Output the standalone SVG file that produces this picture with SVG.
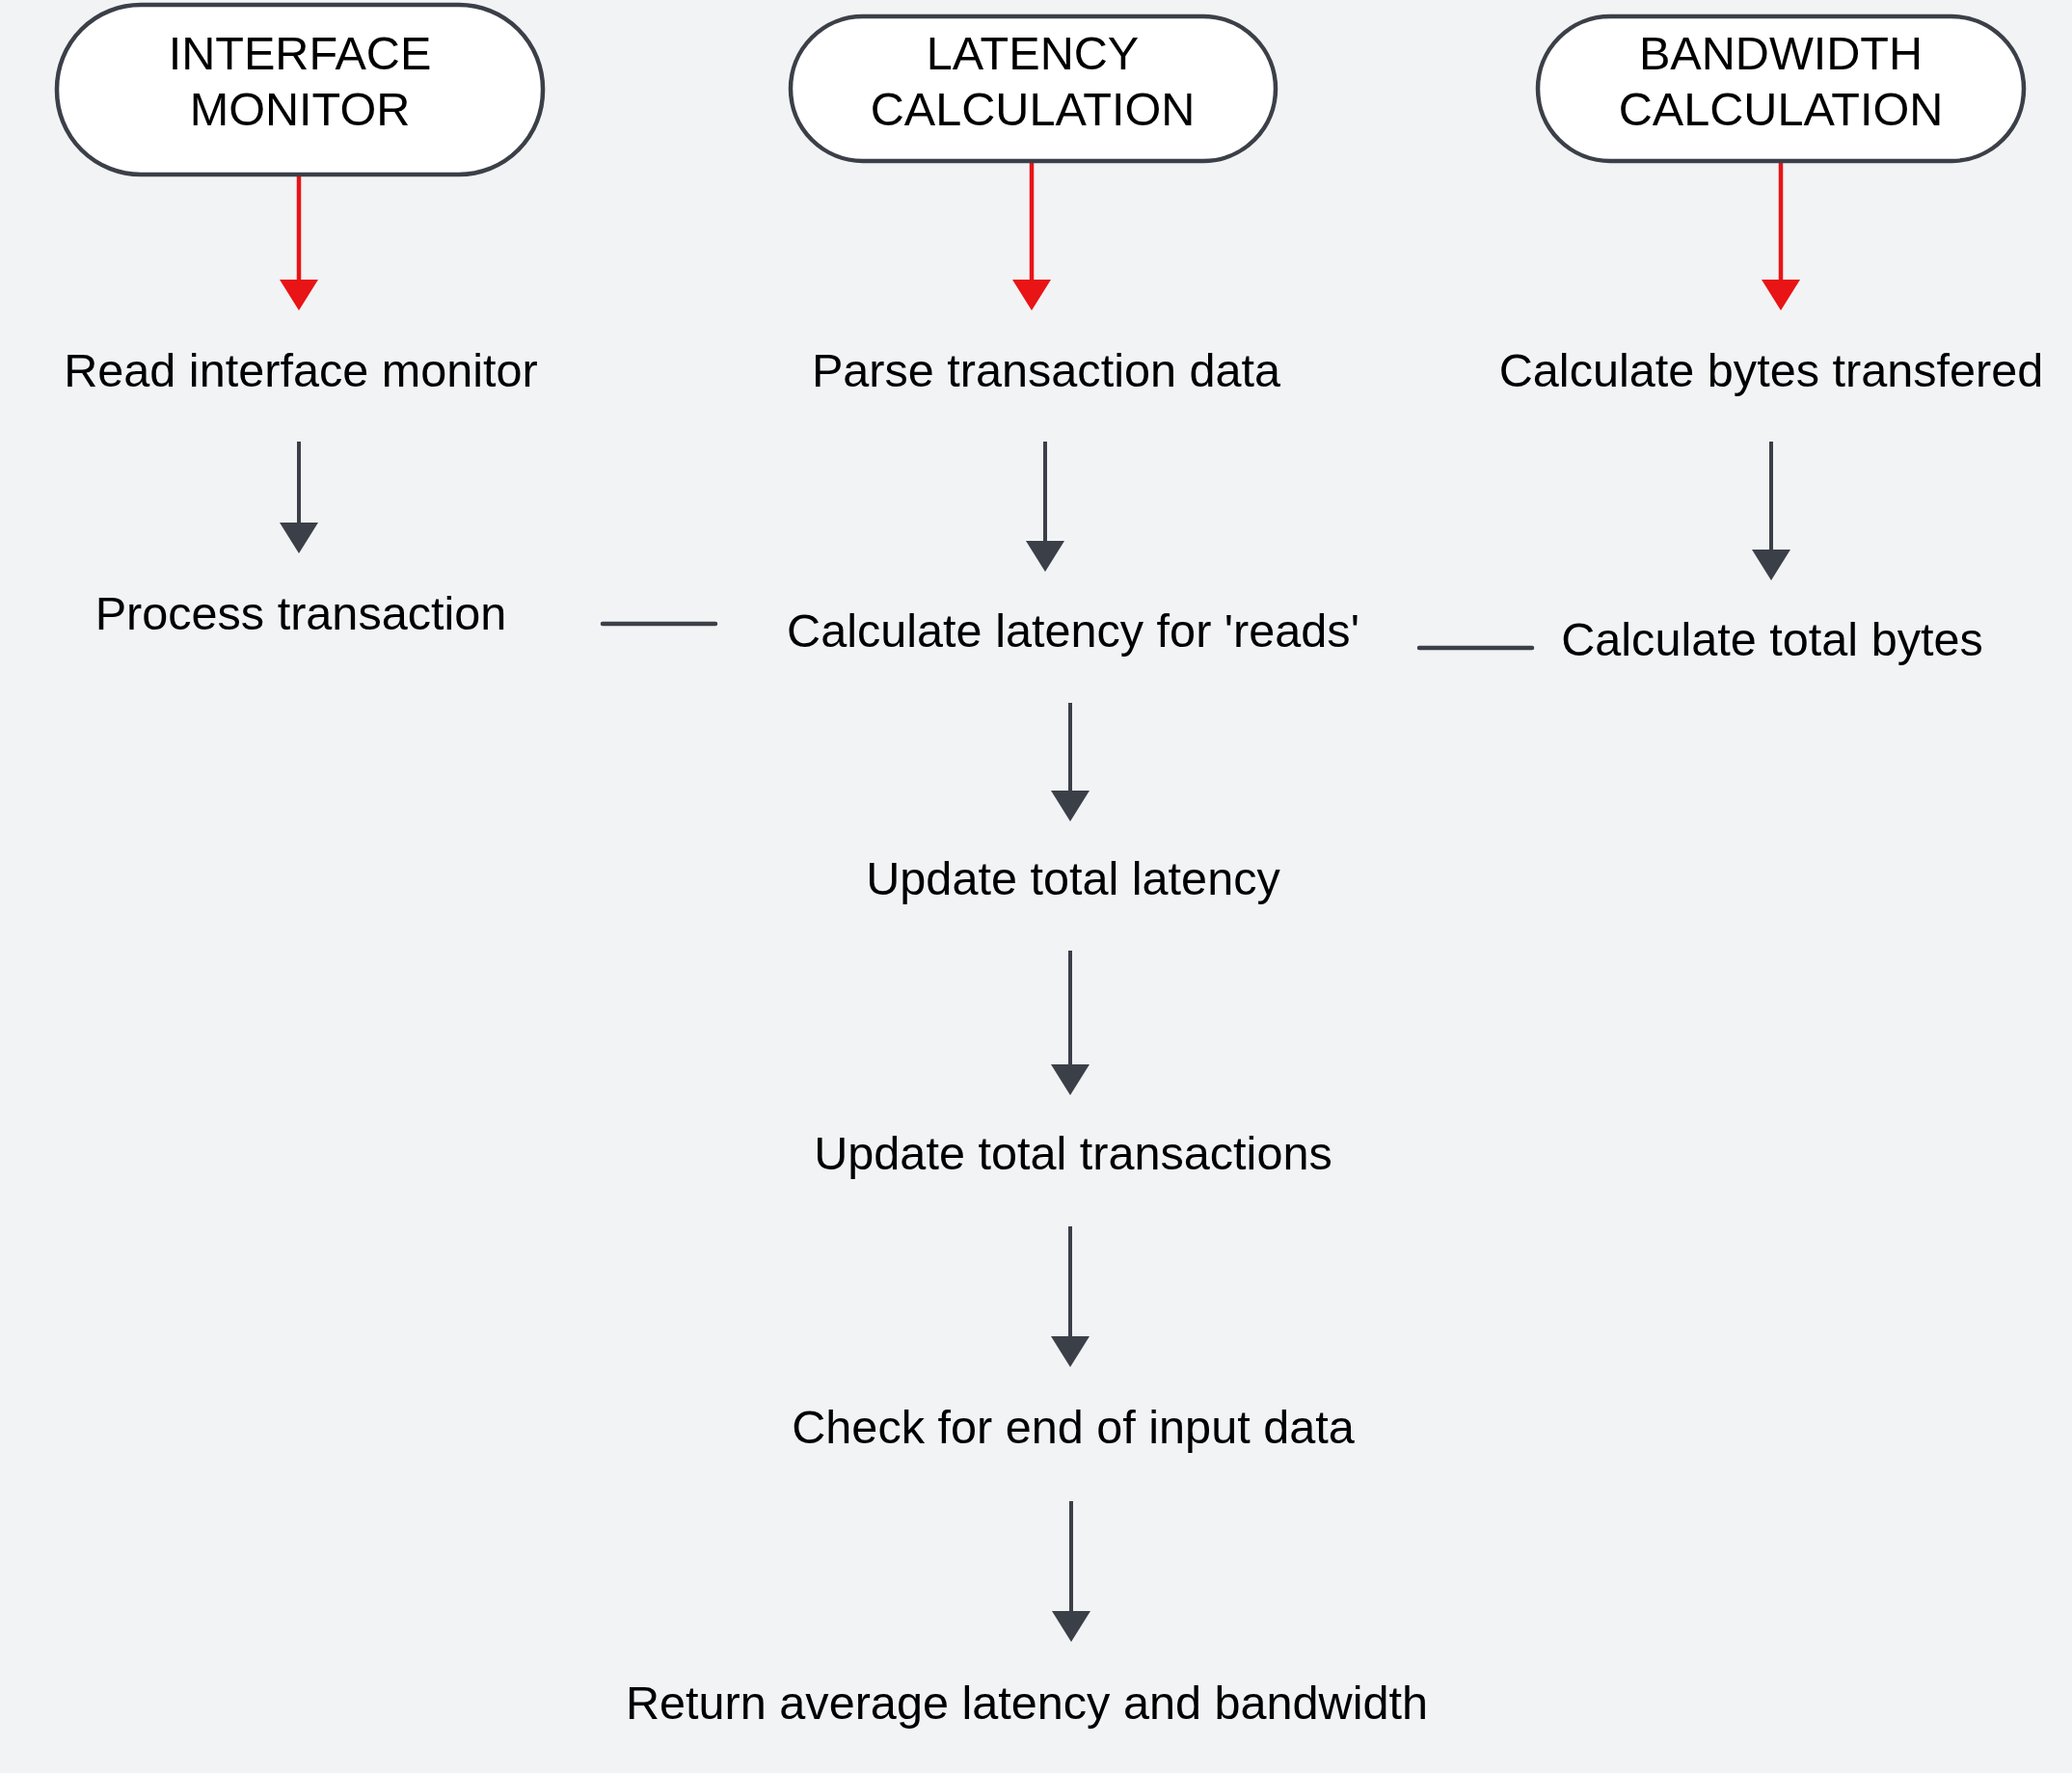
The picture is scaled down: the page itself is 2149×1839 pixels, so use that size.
<svg xmlns="http://www.w3.org/2000/svg" width="2149" height="1839" viewBox="0 0 2149 1839">
<defs>
<style>
.bg{fill:#f2f3f5}
.pill{fill:#ffffff;stroke:#3b3f48;stroke-width:4.5}
.t{font-family:"Liberation Sans",Arial,sans-serif;font-size:48.6px;fill:#000;text-anchor:middle}
.red{stroke:#e81416;stroke-width:4.5;fill:none}
.gray{stroke:#3b3f48;stroke-width:4;fill:none}
.link{stroke:#3b3f48;stroke-width:4.5;stroke-linecap:round;fill:none}
</style>
<marker id="ahRed" viewBox="0 0 32 40" refX="0" refY="20" markerWidth="32" markerHeight="40" markerUnits="userSpaceOnUse" orient="auto">
<path d="M0,0 L32,20 L0,40 Z" fill="#e81416"/>
</marker>
<marker id="ahGray" viewBox="0 0 32 40" refX="0" refY="20" markerWidth="32" markerHeight="40" markerUnits="userSpaceOnUse" orient="auto">
<path d="M0,0 L32,20 L0,40 Z" fill="#3b3f48"/>
</marker>
</defs>
<rect class="bg" x="0" y="0" width="2149" height="1839"/>

<g id="connectors">
<line class="red" x1="310" y1="182" x2="310" y2="290" marker-end="url(#ahRed)"/>
<line class="red" x1="1070" y1="169" x2="1070" y2="290" marker-end="url(#ahRed)"/>
<line class="red" x1="1847" y1="169" x2="1847" y2="290" marker-end="url(#ahRed)"/>
<line class="gray" x1="310" y1="458" x2="310" y2="542" marker-end="url(#ahGray)"/>
<line class="gray" x1="1084" y1="458" x2="1084" y2="561" marker-end="url(#ahGray)"/>
<line class="gray" x1="1837" y1="458" x2="1837" y2="570" marker-end="url(#ahGray)"/>
<line class="gray" x1="1110" y1="729" x2="1110" y2="820" marker-end="url(#ahGray)"/>
<line class="gray" x1="1110" y1="986" x2="1110" y2="1104" marker-end="url(#ahGray)"/>
<line class="gray" x1="1110" y1="1272" x2="1110" y2="1386" marker-end="url(#ahGray)"/>
<line class="gray" x1="1111" y1="1557" x2="1111" y2="1671" marker-end="url(#ahGray)"/>
<line class="link" x1="625" y1="647" x2="742" y2="647"/>
<line class="link" x1="1472" y1="672" x2="1589" y2="672"/>
</g>

<g id="interface-monitor">
<rect class="pill" x="59" y="5" width="504" height="176" rx="87" ry="87"/>
<text class="t" x="311" y="72">INTERFACE</text>
<text class="t" x="311" y="130">MONITOR</text>
</g>
<g id="latency-calculation">
<rect class="pill" x="820" y="17" width="503" height="150" rx="75" ry="75"/>
<text class="t" x="1071" y="72">LATENCY</text>
<text class="t" x="1071" y="130">CALCULATION</text>
</g>
<g id="bandwidth-calculation">
<rect class="pill" x="1595" y="17" width="504" height="150" rx="75" ry="75"/>
<text class="t" x="1847" y="72">BANDWIDTH</text>
<text class="t" x="1847" y="130">CALCULATION</text>
</g>

<g id="read-interface-monitor"><text class="t" x="312" y="401">Read interface monitor</text></g>
<g id="parse-transaction-data"><text class="t" x="1085" y="401">Parse transaction data</text></g>
<g id="calculate-bytes-transfered"><text class="t" x="1837" y="401">Calculate bytes transfered</text></g>
<g id="process-transaction"><text class="t" x="312" y="653">Process transaction</text></g>
<g id="calculate-latency-reads"><text class="t" x="1113" y="671">Calculate latency for 'reads'</text></g>
<g id="calculate-total-bytes"><text class="t" x="1838" y="680">Calculate total bytes</text></g>
<g id="update-total-latency"><text class="t" x="1113" y="928">Update total latency</text></g>
<g id="update-total-transactions"><text class="t" x="1113" y="1213">Update total transactions</text></g>
<g id="check-end-input"><text class="t" x="1113" y="1497">Check for end of input data</text></g>
<g id="return-average"><text class="t" x="1065" y="1783">Return average latency and bandwidth</text></g>
</svg>
